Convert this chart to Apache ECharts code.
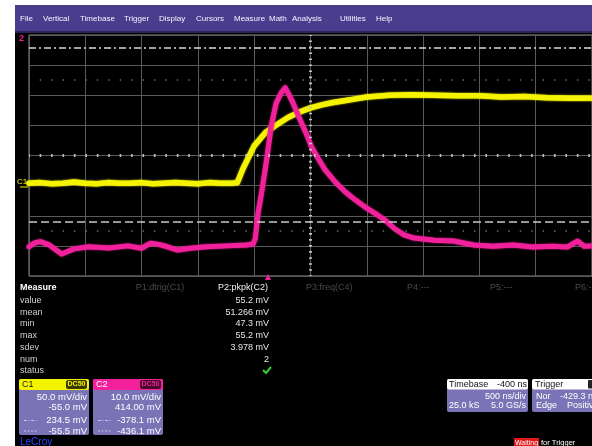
<!DOCTYPE html>
<html>
<head>
<meta charset="utf-8">
<script src="https://cdn.jsdelivr.net/npm/echarts@6/dist/echarts.min.js"></script>
<style>
html,body{margin:0;padding:0;background:#fff}
#scope{width:592px;height:446px}
</style>
</head>
<body>
<div id="scope"></div>
<script>
// ---- acquisition: time in ns from the left edge of the screen ----
const c1Time = [0,100,200,300,400,500,600,700,800,900,1000,1100,1200,1300,1400,1500,1600,1700,1800,1850,
  1900,1950,2000,2050,2100,2200,2300,2400,2500,2600,2700,2800,2900,3000,
  3200,3400,3600,3800,4000,4200,4400,4600,4800,5000];
// C1 (mV)
const c1Mv = [9,10,8,9,11,9,8,10,9,9,10,8,9,10,9,8,10,9,9,10,
  33,52,71,82,93,106,118,127,134,139,143,146,149,152,
  155,156,155,154,154,152,153,151,150,150];

const c2Time = [0,50,100,180,290,400,530,710,880,1000,1080,1150,1230,1320,1450,1580,1760,1930,1990,2010,
  2035,2065,2110,2150,2195,2240,2275,2310,2345,2400,2460,2510,2550,2630,2720,2810,2900,2985,3070,3160,
  3250,3335,3420,3600,3770,3950,4120,4300,4470,4650,4780,4870,4930,5000];
// C2 (mV)
const c2Mv = [-444.3,-443.0,-442.6,-443.7,-446.7,-445.0,-444.3,-444.7,-444.0,-444.8,-443.1,-443.5,-444.3,-445.4,-444.7,-444.3,-444.0,-443.7,-443.4,-441.5,
  -433.0,-426.5,-415.5,-404.5,-396.6,-393.2,-391.5,-393.9,-396.6,-401.5,-406.5,-411.2,-413.8,-418.8,-422.8,-426.1,-428.8,-431.1,-433.1,-435.4,
  -438.4,-440.4,-441.4,-442.1,-442.4,-443.7,-444.1,-443.7,-444.4,-444.1,-444.4,-442.4,-444.1,-444.0];

// ---- channel setup ----
const c1VoltsDiv = 50, c1Offset = -55.0;     // mV/div, mV
const c2VoltsDiv = 10, c2Offset = 414.00;
const c1CursorLevels = [234.5, -55.5];
const c2CursorLevels = [-378.1, -436.1];
const timebaseNsDiv = 500;
const xDivs = 10, yDivs = 8;

// ---- measurement table ----
const measureRows = ['value','mean','min','max','sdev','num','status'];
const p2Values = ['55.2 mV','51.266 mV','47.3 mV','55.2 mV','3.978 mV','2'];
const paramTitles = ['P1:dtrig(C1)','P2:pkpk(C2)','P3:freq(C4)','P4:---','P5:---','P6:---'];
const menuItems = ['File','Vertical','Timebase','Trigger','Display','Cursors','Measure','Math','Analysis','Utilities','Help'];

const zip = (xs, ys) => xs.map((x, i) => [x, ys[i]]);

const YEL = '#f4f400', MAG = '#f2209b';
const FONT = '"Liberation Sans", Arial, sans-serif';
const LAV = '#7a74b6';

const G = [];
function txt(x, y, s, fill, size, align, weight) {
  G.push({type:'text', x:x, y:y, z:50, silent:true,
    style:{text:s, fill:fill, font:(weight||'normal')+' '+(size||9)+'px '+FONT,
      align:align||'left', verticalAlign:'middle'}});
}
function rect(x, y, w, h, fill, r, z) {
  G.push({type:'rect', z:z||40, silent:true, shape:{x:x, y:y, width:w, height:h, r:r||0}, style:{fill:fill}});
}
function seg(pts, stroke, w, dash) {
  G.push({type:'polyline', z:55, silent:true, shape:{points:pts},
    style:{stroke:stroke, lineWidth:w, fill:null, lineDash:dash||null}});
}

// frame: white margins, menu bar
rect(0, 0, 592, 5, '#ffffff', 0, 1);
rect(0, 0, 15, 446, '#ffffff', 0, 1);
rect(15, 5, 577, 26, '#4a3d8e', 0, 2);
rect(15, 31, 577, 2, '#2a2250', 0, 2);
const menuX = [20,43,80,124,159,196,234,269,292,340,376];
menuItems.forEach((m, i) => txt(menuX[i], 19, m, '#f4f4ff', 8));

// trace markers on the left of the grid
txt(19, 39, '2', MAG, 9, 'left', 'bold');
txt(17, 182, 'C1', YEL, 8);
seg([[20,187],[28,187]], YEL, 1);

// measurement panel
txt(20, 288, 'Measure', '#ffffff', 9, 'left', 'bold');
const titleX = [160, 268, 306, 407, 490, 575];
paramTitles.forEach((t, i) => {
  if (i === 1) txt(titleX[i], 288, t, '#f0f0f0', 9, 'right');
  else txt(titleX[i], 288, t, '#4a4a4a', 9, i === 0 ? 'center' : 'left');
});
const rowY = [300.5, 312.3, 324, 335.7, 347.5, 359.2, 371];
measureRows.forEach((r, i) => txt(20, rowY[i], r, '#cfcfcf', 9));
p2Values.forEach((v, i) => txt(269, rowY[i], v, '#e6e6e6', 9, 'right'));
seg([[263,370],[266,373],[271,367]], '#33cc33', 2);
G.push({type:'polygon', z:55, silent:true, shape:{points:[[265,280],[271,280],[268,274]]}, style:{fill:MAG}});

// channel descriptor boxes
function chanBox(x, head, headText, headTextColor, tagFill, lines) {
  rect(x, 379, 70, 56, LAV, 2);
  rect(x, 379, 70, 11, head, 2);
  txt(x + 3, 384.5, headText, headTextColor, 9);
  rect(x + 47, 380, 21, 9, tagFill, 2, 45);
  txt(x + 57.5, 384.5, 'DC50', head, 7, 'center', 'bold');
  const ly = [397, 407, 420.5, 431];
  lines.forEach((s, i) => txt(x + 68, ly[i], s, '#ffffff', 9.5, 'right'));
  seg([[x + 5, 420.5],[x + 18, 420.5]], '#c8c4ee', 1, [3,1.5,1,1.5]);
  seg([[x + 5, 431],[x + 18, 431]], '#c8c4ee', 1, [2,1.5]);
}
chanBox(19, YEL, 'C1', '#222', '#3a3a00',
  [c1VoltsDiv.toFixed(1)+' mV/div', c1Offset.toFixed(1)+' mV', c1CursorLevels[0].toFixed(1)+' mV', c1CursorLevels[1].toFixed(1)+' mV']);
chanBox(93, MAG, 'C2', '#ffffff', '#4a0a2a',
  [c2VoltsDiv.toFixed(1)+' mV/div', c2Offset.toFixed(2)+' mV', c2CursorLevels[0].toFixed(1)+' mV', c2CursorLevels[1].toFixed(1)+' mV']);
txt(20, 442, 'LeCroy', '#2a44ff', 10);

// timebase / trigger boxes
rect(447, 379, 81, 33, LAV, 2);
rect(447, 379, 81, 10.5, '#ffffff', 2);
txt(449, 384.5, 'Timebase', '#111', 9);
txt(527, 384.5, '-400 ns', '#111', 9, 'right');
txt(526, 397, timebaseNsDiv + ' ns/div', '#ffffff', 9, 'right');
txt(449, 406, '25.0 kS', '#ffffff', 9);
txt(526, 406, '5.0 GS/s', '#ffffff', 9, 'right');
rect(532, 379, 70, 33, LAV, 2);
rect(532, 379, 70, 10.5, '#ffffff', 2);
txt(535, 384.5, 'Trigger', '#111', 9);
rect(588, 380, 10, 8.5, '#222', 1, 45);
txt(536, 397, 'Nor', '#ffffff', 9);
txt(560, 397, '-429.3 ns', '#ffffff', 9);
txt(536, 406, 'Edge', '#ffffff', 9);
txt(567, 406, 'Positive', '#ffffff', 9);

// status line
rect(514, 438, 25, 9, '#e01818', 0);
txt(526.5, 443, 'Waiting', '#ffffff', 7, 'center');
txt(541, 443, 'for Trigger', '#ffffff', 7.5);

const gridW = 571.3, gridH = 241;
const c1Center = -c1Offset, c2Center = -c2Offset;

const chart = echarts.init(document.getElementById('scope'), null, {renderer:'canvas'});
chart.setOption({
  backgroundColor: '#000000',
  animation: false,
  graphic: {elements: G},
  grid: {left:29, top:35, width:gridW, height:gridH, show:true, borderColor:'#8c8c8c', borderWidth:1, backgroundColor:'transparent'},
  xAxis: {type:'value', min:0, max:xDivs*timebaseNsDiv, interval:timebaseNsDiv,
    axisLabel:{show:false}, axisTick:{show:false}, axisLine:{show:false},
    splitLine:{show:true, lineStyle:{color:'#5a5a5a', width:1}}},
  yAxis: [
    {type:'value', min:0, max:yDivs, interval:1, axisLabel:{show:false}, axisTick:{show:false}, axisLine:{show:false},
      splitLine:{show:true, lineStyle:{color:'#5a5a5a', width:1}}},
    {type:'value', show:false, min:c1Center - 4*c1VoltsDiv, max:c1Center + 4*c1VoltsDiv, splitLine:{show:false}},
    {type:'value', show:false, min:c2Center - 4*c2VoltsDiv, max:c2Center + 4*c2VoltsDiv, splitLine:{show:false}}
  ],
  series: [
    { // graticule centre axes and quarter rows
      type:'line', yAxisIndex:0, data:[[0,4]], showSymbol:false, lineStyle:{opacity:0}, silent:true, z:1,
      markLine:{silent:true, symbol:'none', label:{show:false}, animation:false,
        data:[
          {yAxis:4, lineStyle:{color:'#c0c0c0', width:3, type:[1.6,9.83], dashOffset:0.8}},
          {xAxis:2500, lineStyle:{color:'#c0c0c0', width:3, type:[1.6,4.42], dashOffset:0.8}},
          {yAxis:6.5, lineStyle:{color:'#6a6a6a', width:1.5, type:[1.5,9.93], dashOffset:0.75}},
          {yAxis:1.5, lineStyle:{color:'#6a6a6a', width:1.5, type:[1.5,9.93], dashOffset:0.75}}
        ]}
    },
    {
      name:'C1', type:'line', yAxisIndex:1, data:zip(c1Time, c1Mv), showSymbol:false, z:3,
      lineStyle:{color:YEL, width:5.5, cap:'round', join:'round', shadowColor:YEL, shadowBlur:2},
      markLine:{silent:true, symbol:'none', label:{show:false}, animation:false,
        data:[
          {yAxis:c1CursorLevels[0], lineStyle:{color:'#dcdcdc', width:1.5, type:[7,3,2,3]}},
          {yAxis:c1CursorLevels[1], lineStyle:{color:'#c8c8c8', width:1.5, type:[8,4]}}
        ]}
    },
    {
      name:'C2', type:'line', yAxisIndex:2, data:zip(c2Time, c2Mv), showSymbol:false, z:4,
      lineStyle:{color:MAG, width:5, cap:'round', join:'round', shadowColor:MAG, shadowBlur:2}
    }
  ]
});
</script>
</body>
</html>
